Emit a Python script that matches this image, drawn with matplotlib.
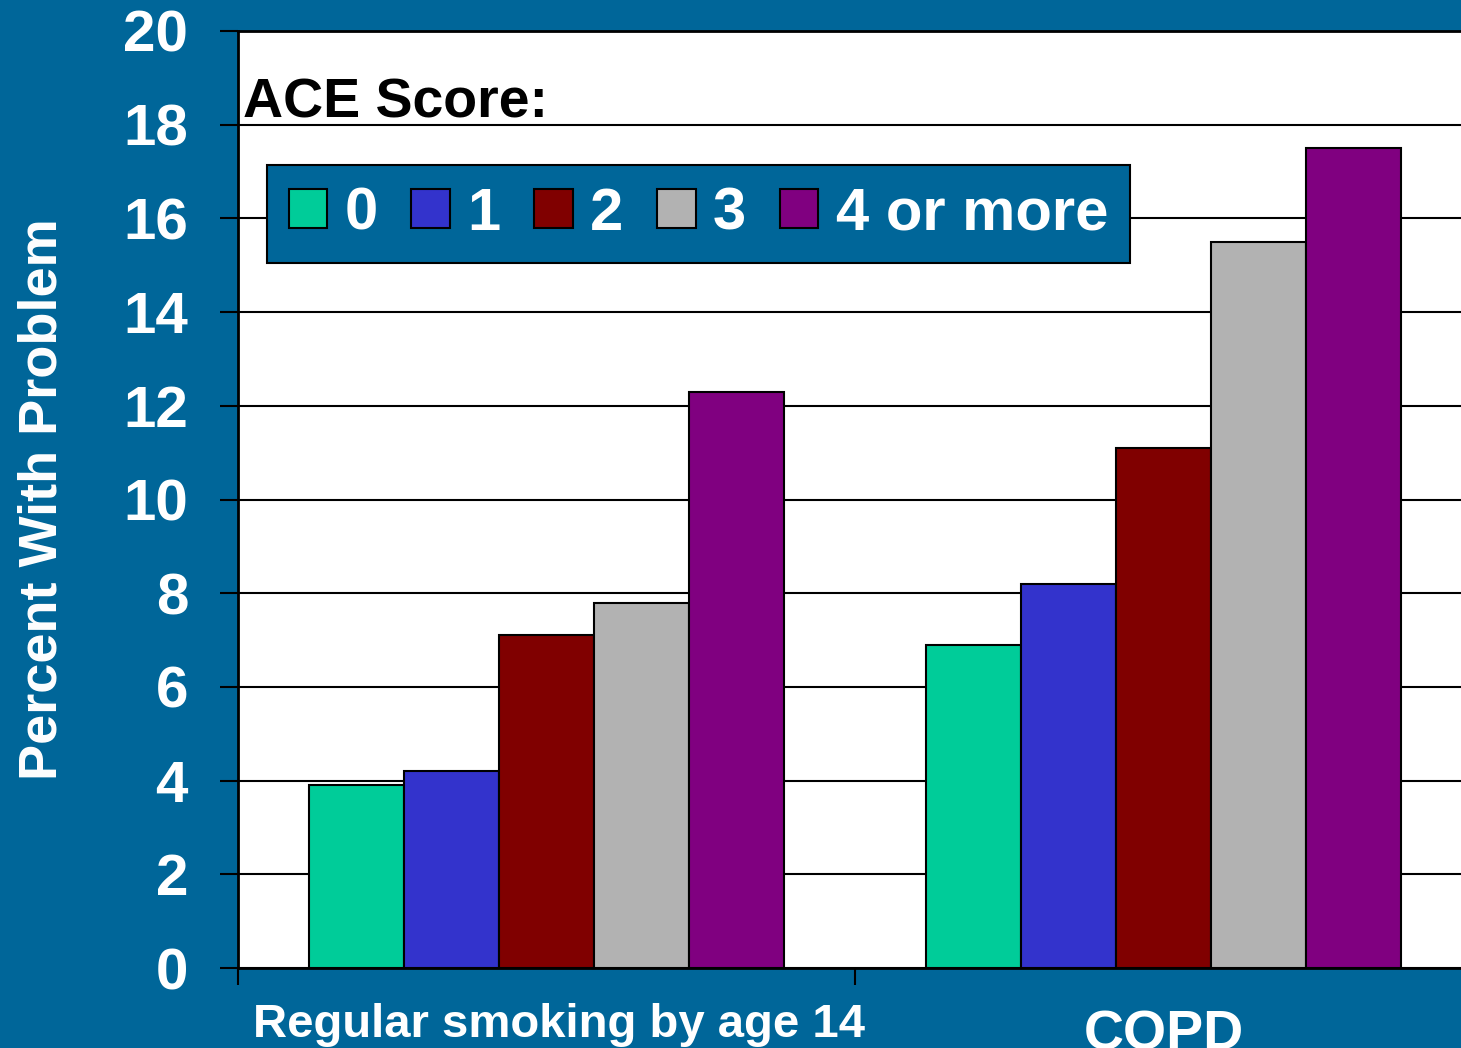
import matplotlib
matplotlib.use("Agg")
import numpy as np
import matplotlib.pyplot as plt

# dados
categories = ["Regular smoking by age 14", "COPD"]
ace_labels = ["0", "1", "2", "3", "4 or more"]
smoking = [3.9, 4.2, 7.1, 7.8, 12.3]
copd = [6.9, 8.2, 11.1, 15.5, 17.5]
colors = ["#00CC99", "#3333CC", "#800000", "#B2B2B2", "#800080"]
yticks = list(range(0, 21, 2))

bg = "#006699"
plt.rcParams["font.family"] = ["Liberation Sans", "DejaVu Sans"]
plt.rcParams["font.weight"] = "bold"

fig = plt.figure(figsize=(14.61, 10.48), dpi=100, facecolor=bg)
# eixo vai um pouco além da borda direita, como no original
ax = fig.add_axes([238 / 1461, 1 - 968 / 1048, 1234 / 1461, 937 / 1048])
ax.set_facecolor("white")

values = np.array([smoking, copd])
x = np.arange(len(categories))
width = 0.154
for i, lab in enumerate(ace_labels):
    ax.bar(x + (i - 2) * width, values[:, i], width, color=colors[i],
           edgecolor="black", linewidth=1.5, label=lab, zorder=3)

ax.set_xlim(-0.5, 1.5)
ax.set_ylim(0, 20)
ax.set_yticks(yticks)
ax.set_yticklabels([str(t) for t in yticks], fontsize=42, fontweight="bold", color="white")
ax.tick_params(axis="y", length=13, width=1.5, color="black", pad=23)
ax.yaxis.grid(True, color="black", linewidth=1.5, zorder=0)
ax.set_axisbelow(True)

# rótulos das categorias como texto (o primeiro um pouco à direita do centro)
ax.set_xticks([-0.5, 0.5, 1.5])
ax.set_xticklabels([])
ax.tick_params(axis="x", length=12, width=1.5, color="black")
trans = ax.get_xaxis_transform()
ax.text(x[0] + 0.02, -35 / 937, categories[0], transform=trans, ha="center", va="top",
        fontsize=34, fontweight="bold", color="white")
ax.text(x[1], -41 / 937, categories[1], transform=trans, ha="center", va="top",
        fontsize=40, fontweight="bold", color="white")

for s in ["left", "bottom", "top"]:
    ax.spines[s].set_linewidth(2)
    ax.spines[s].set_color("black")
ax.spines["right"].set_visible(False)

ax.set_ylabel("Percent With Problem", fontsize=39, fontweight="bold", color="white", labelpad=40)

ax.text(5 / 1234, (968 - 118) / 937, "ACE Score:", transform=ax.transAxes,
        fontsize=40, fontweight="bold", color="black", va="baseline", ha="left")

leg = ax.legend(loc="upper left", bbox_to_anchor=((267 - 238) / 1234, (968 - 165) / 937),
                borderaxespad=0, ncol=5, fontsize=43, frameon=True, fancybox=False,
                facecolor=bg, edgecolor="black", framealpha=1,
                handlelength=0.65, handleheight=0.63, handletextpad=0.29,
                columnspacing=0.56, borderpad=0.36)
leg.get_frame().set_linewidth(1.5)
for t in leg.get_texts():
    t.set_color("white")
    t.set_fontweight("bold")
leg.set_zorder(5)

fig.savefig("out.png", dpi=100, facecolor=bg)
